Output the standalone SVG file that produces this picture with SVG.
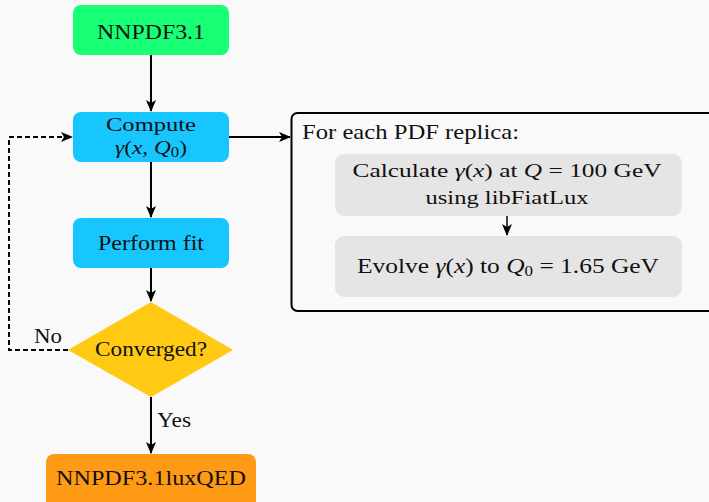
<svg xmlns="http://www.w3.org/2000/svg" width="709" height="502" viewBox="0 0 709 502">
<defs>
<style>
text{font-family:"Liberation Serif","Times New Roman",serif;font-size:21px;fill:#111}
.c{text-anchor:middle}
.i{font-style:italic}
.s{font-size:14px}
.t{font-size:19.5px}
.e{stroke:#000;stroke-width:2;fill:none}
.d{stroke:#000;stroke-width:2;fill:none;stroke-dasharray:5 3}
</style>
<marker id="ah" viewBox="0 0 12 10" refX="11" refY="5" markerWidth="12" markerHeight="10" markerUnits="userSpaceOnUse" orient="auto">
<path d="M0,0 L12,5 L0,10 L3,5 Z" fill="#000"/>
</marker>
</defs>
<rect width="709" height="502" fill="#f9f9f9"/>
<g id="connectors">
<line class="e" x1="151" y1="55" x2="151" y2="111" marker-end="url(#ah)"/>
<line class="e" x1="151" y1="162" x2="151" y2="217" marker-end="url(#ah)"/>
<line class="e" x1="151" y1="268" x2="151" y2="301" marker-end="url(#ah)"/>
<line class="e" x1="151" y1="397" x2="151" y2="453" marker-end="url(#ah)"/>
<line class="e" x1="229" y1="137" x2="290" y2="137" marker-end="url(#ah)"/>
<polyline class="d" points="68,350 9,350 9,137 72,137" marker-end="url(#ah)"/>
<line stroke="#000" stroke-width="1.5" x1="507" y1="216" x2="507" y2="235" marker-end="url(#ah)"/>
<text x="48" y="343" class="c" textLength="28" lengthAdjust="spacingAndGlyphs">No</text>
<text x="157" y="427" textLength="34" lengthAdjust="spacingAndGlyphs">Yes</text>
</g>
<g id="nnpdf31">
<rect x="73" y="5" width="156" height="50" rx="8" fill="#16ff75"/>
<text x="151" y="39" class="c" textLength="108" lengthAdjust="spacingAndGlyphs">NNPDF3.1</text>
</g>
<g id="compute">
<rect x="73" y="112" width="156" height="50" rx="8" fill="#17c6ff"/>
<text x="151" y="131" class="c t" textLength="90" lengthAdjust="spacingAndGlyphs">Compute</text>
<text x="151" y="154" class="c t" textLength="72" lengthAdjust="spacingAndGlyphs"><tspan class="i">γ</tspan>(<tspan class="i">x</tspan>, <tspan class="i">Q</tspan><tspan class="s" dy="3">0</tspan><tspan dy="-3">)</tspan></text>
</g>
<g id="perform">
<rect x="73" y="218" width="156" height="50" rx="8" fill="#17c6ff"/>
<text x="151" y="250" class="c" textLength="106" lengthAdjust="spacingAndGlyphs">Perform fit</text>
</g>
<g id="converged">
<polygon points="151,302 233,350 151,397 68,350" fill="#ffc914"/>
<text x="151" y="356" class="c" textLength="112" lengthAdjust="spacingAndGlyphs">Converged?</text>
</g>
<g id="luxqed">
<rect x="46" y="454" width="210" height="56" rx="8" fill="#ff9a14"/>
<text x="151" y="485" class="c" textLength="190" lengthAdjust="spacingAndGlyphs">NNPDF3.1luxQED</text>
</g>
<g id="replica">
<rect x="291.5" y="113" width="425" height="198" rx="6" fill="none" stroke="#000" stroke-width="2"/>
<text x="302" y="139" textLength="217" lengthAdjust="spacingAndGlyphs">For each PDF replica:</text>
</g>
<g id="calculate">
<rect x="335" y="154" width="347" height="62" rx="9" fill="#e5e5e5"/>
<text x="507" y="177" class="c t" textLength="309" lengthAdjust="spacingAndGlyphs">Calculate <tspan class="i">γ</tspan>(<tspan class="i">x</tspan>) at <tspan class="i">Q</tspan> = 100 GeV</text>
<text x="507" y="204" class="c t" textLength="163" lengthAdjust="spacingAndGlyphs">using libFiatLux</text>
</g>
<g id="evolve">
<rect x="335" y="236" width="347" height="61" rx="9" fill="#e5e5e5"/>
<text x="508" y="273" class="c" textLength="302" lengthAdjust="spacingAndGlyphs">Evolve <tspan class="i">γ</tspan>(<tspan class="i">x</tspan>) to <tspan class="i">Q</tspan><tspan class="s" dy="3">0</tspan><tspan dy="-3"> = 1.65 GeV</tspan></text>
</g>
</svg>
